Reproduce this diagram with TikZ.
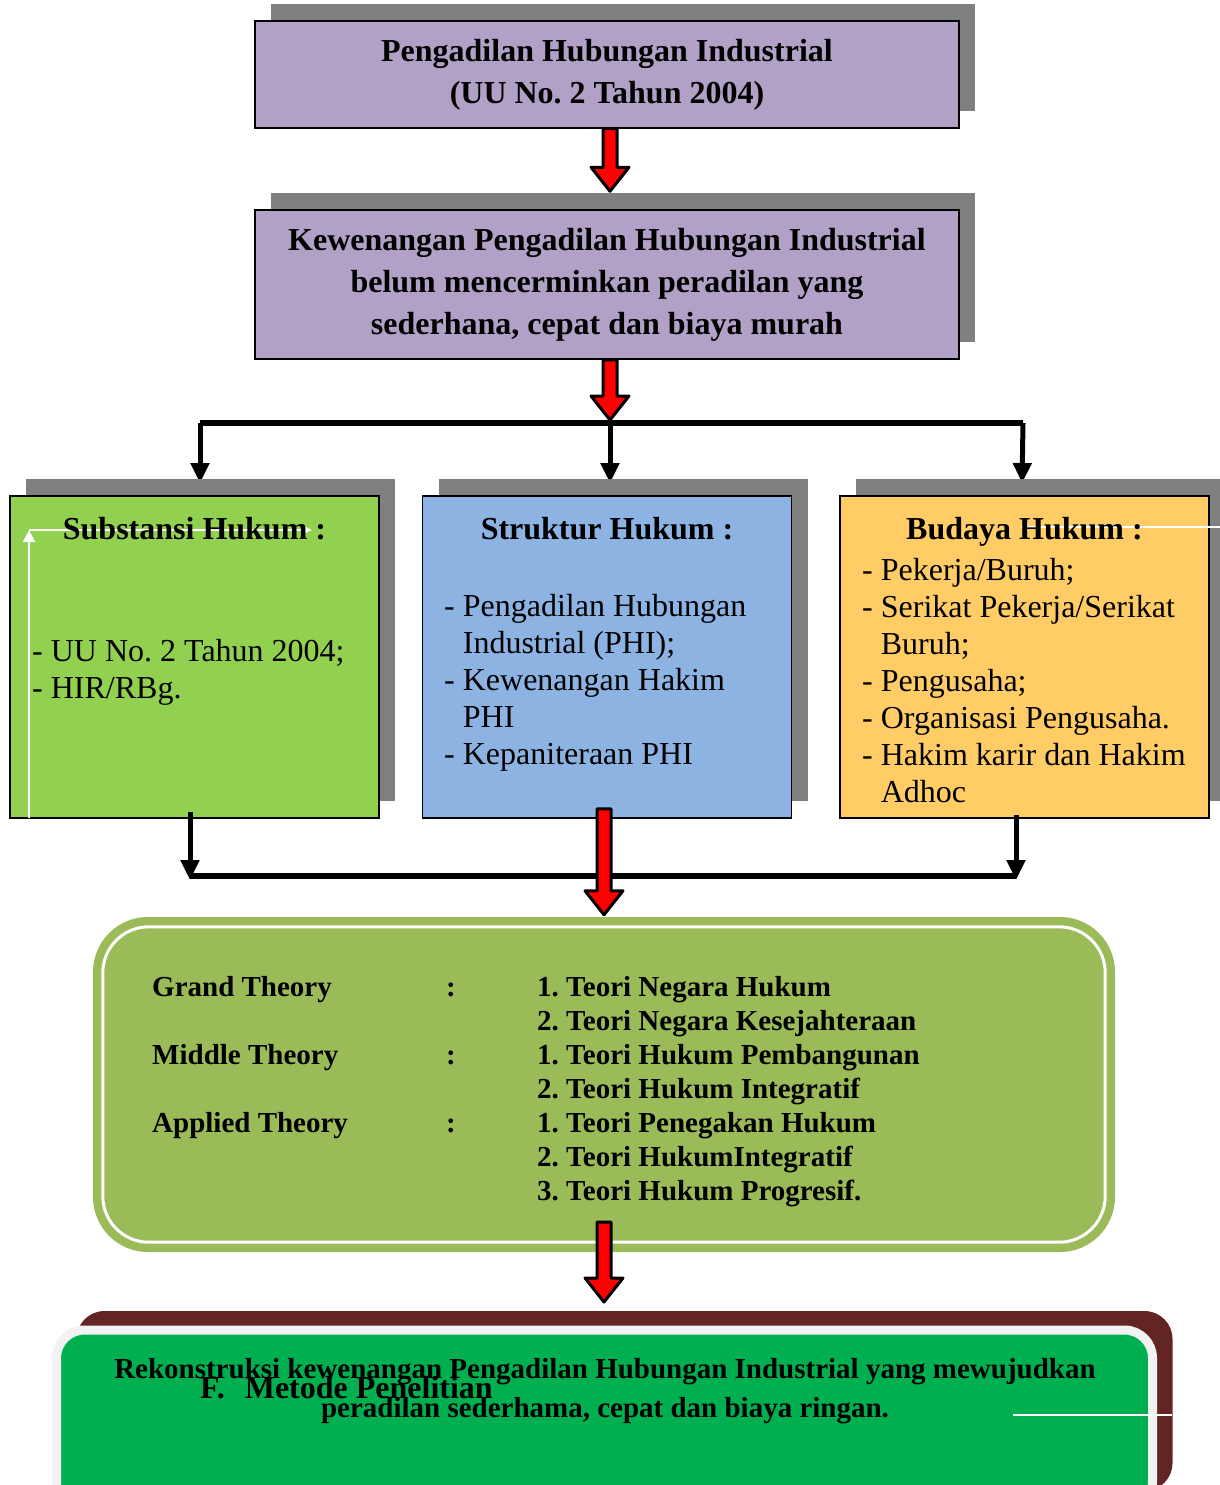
\documentclass[tikz,border=0pt]{standalone}
\usepackage{fontspec}
\setmainfont{Liberation Serif}
\usetikzlibrary{arrows.meta,positioning,calc,shadows}
\definecolor{ungu}{HTML}{B2A1C7}
\definecolor{abu}{HTML}{808080}
\definecolor{hijau}{HTML}{92D050}
\definecolor{biru}{HTML}{8DB3E2}
\definecolor{jingga}{HTML}{FFCC66}
\definecolor{zaitun}{HTML}{9BBB59}
\definecolor{marun}{HTML}{632523}
\definecolor{hijautua}{HTML}{00B050}
\definecolor{pucat}{HTML}{F2F2F2}
% block arrow, red with black outline: #1 = start, #2 = tip
\newcommand{\panahmerah}[2]{%
  \draw[merah] let \p1=#1, \p2=#2 in
    (\x1-7pt,\y1) -- (\x1+7pt,\y1) -- (\x1+7pt,\y2+24pt) -- (\x1+19pt,\y2+24pt)
    -- (\x1,\y2) -- (\x1-19pt,\y2+24pt) -- (\x1-7pt,\y2+24pt) -- cycle;}

\begin{document}
\frenchspacing
\begin{tikzpicture}[x=1pt,y=-1pt,
  kotak/.style={draw,line width=1.5pt,inner sep=0pt,drop shadow={shadow xshift=16pt,shadow yshift=17pt,fill=abu,opacity=1}},
  atas/.style={kotak,fill=ungu,minimum width=704pt,align=center,font=\fontsize{32}{42}\selectfont\bfseries},
  tiga/.style={kotak,minimum width=369pt,minimum height=322pt},
  judul/.style={font=\fontsize{32}{37}\selectfont\bfseries,inner sep=0pt},
  isi/.style={font=\fontsize{32}{37}\selectfont,align=left,inner sep=0pt,anchor=north west},
  garis/.style={line width=6pt},
  panah/.style={line width=5pt,-{Triangle[width=18pt,length=20pt]}},
  merah/.style={fill=red,draw=black,line width=3pt,line join=round},
  putih/.style={white,line width=2pt}]
  \useasboundingbox (0,0) rectangle (1220,1485);
  \clip (0,0) rectangle (1220,1485);
  % ---- 1. Dasar dan masalah
  \node[atas,minimum height=107pt] (puncak) at (607,74.5) {Pengadilan Hubungan Industrial\\(UU No. 2 Tahun 2004)};
  \node[atas,minimum height=149pt] (masalah) at (607,284.5) {Kewenangan Pengadilan Hubungan Industrial\\belum mencerminkan peradilan yang\\sederhana, cepat dan biaya murah};
  \coordinate (m1a) at ($(puncak.south)+(3,0)$);
  \coordinate (m1b) at ($(masalah.north)+(3,-18)$);
  \panahmerah{(m1a)}{(m1b)}
  % ---- 2. Percabangan
  \coordinate (bagiL) at (200,423);
  \coordinate (bagiM) at (610,423);
  \coordinate (bagiR) at (1023,423);
  \coordinate (tL) at (200,483);
  \coordinate (tM) at (610,483);
  \coordinate (tR) at (1022,483);
  \draw[garis] (bagiL) -- (bagiR);
  \draw[panah] (bagiL) -- (tL);
  \draw[panah] (bagiM) -- (tM);
  \draw[panah] (bagiR) -- (tR);
  \coordinate (m2a) at ($(masalah.south)+(3,0)$);
  \coordinate (m2b) at ($(bagiM)+(0,-3)$);
  \panahmerah{(m2a)}{(m2b)}
  % ---- 3. Substansi, struktur, budaya
  \node[tiga,fill=hijau] (sub) at (194.5,657) {};
  \node[tiga,fill=biru] (struktur) at (607,657) {};
  \node[tiga,fill=jingga] (budaya) at (1024.5,657) {};
  % garis putih
  \coordinate (wA) at (29,818);
  \coordinate (wB) at (29,530);
  \coordinate (wC) at (312,530);
  \coordinate (wD) at (1220,527);
  \coordinate (wE) at (1020,527);
  \draw[putih,-{Triangle[width=12pt,length=12pt]}] (wA) -- (wB);
  \draw[putih,-{Triangle[width=7pt,length=8pt]}] (wB) -- (wC);
  \draw[putih,-{Triangle[width=7pt,length=8pt]}] (wD) -- (wE);
  \node[judul,below=21.5pt of sub.north] (subT) {Substansi Hukum :};
  \node[isi] (subI) at (32,639.5) {- UU No. 2 Tahun 2004;\\- HIR/RBg.};
  \node[judul,below=21.5pt of struktur.north] (strT) {Struktur Hukum :};
  \node[isi] (strI) at (444,594.5) {- Pengadilan Hubungan\\\phantom{- }Industrial (PHI);\\- Kewenangan Hakim\\\phantom{- }PHI\\- Kepaniteraan PHI};
  \node[judul,below=21.5pt of budaya.north] (budT) {Budaya Hukum :};
  \node[isi] (budI) at (862,558.5) {- Pekerja/Buruh;\\- Serikat Pekerja/Serikat\\\phantom{- }Buruh;\\- Pengusaha;\\- Organisasi Pengusaha.\\- Hakim karir dan Hakim\\\phantom{- }Adhoc};
  % ---- 4. Penggabungan
  \coordinate (sL) at (190,812);
  \coordinate (sR) at (1016,815);
  \coordinate (gabL) at (190,876);
  \coordinate (gabR) at (1016,876);
  \coordinate (uL) at (190,880);
  \coordinate (uR) at (1016,880);
  \draw[garis] (gabL) -- (gabR);
  \draw[panah] (sL) -- (uL);
  \draw[panah] (sR) -- (uR);
  % ---- 5. Teori
  \node[fill=zaitun,rounded corners=55pt,minimum width=1022pt,minimum height=335pt,inner sep=0pt] (teoriK) at (604,1084.5) {};
  \draw[white,line width=3pt,rounded corners=46pt] ([shift={(10pt,-10pt)}]teoriK.north west) rectangle ([shift={(-10pt,10pt)}]teoriK.south east);
  \node[anchor=north west,inner sep=0pt,font=\fontsize{29}{34}\selectfont\bfseries] (teori) at (152,972) {%
    \begin{tabular}{@{}p{294pt}@{}p{91pt}@{}l@{}}
      Grand Theory & : & 1. Teori Negara Hukum\\
       & & 2. Teori Negara Kesejahteraan\\
      Middle Theory & : & 1. Teori Hukum Pembangunan\\
       & & 2. Teori Hukum Integratif\\
      Applied Theory & : & 1. Teori Penegakan Hukum\\
       & & 2. Teori HukumIntegratif\\
       & & 3. Teori Hukum Progresif.
    \end{tabular}};
  \coordinate (m3a) at ($(struktur.south)+(-3,-10)$);
  \coordinate (m3b) at ($(teoriK.north)+(0,-2)$);
  \panahmerah{(m3a)}{(m3b)}
  % ---- 6. Rekonstruksi
  \node[fill=hijautua,draw=pucat,line width=9pt,rounded corners=28pt,minimum width=1096pt,minimum height=180pt,
    drop shadow={shadow xshift=20pt,shadow yshift=19pt,fill=marun,opacity=1}] (hasil) at (604.5,1420) {};
  \node[align=center,inner sep=0pt,font=\fontsize{29}{39}\selectfont\bfseries] (rek) at (605,1391) {Rekonstruksi kewenangan Pengadilan Hubungan Industrial yang mewujudkan\\peradilan sederhama, cepat dan biaya ringan.};
  \node[anchor=base west,inner sep=0pt,font=\fontsize{32}{37}\selectfont\bfseries] (metode) at (200,1398) {F.\hspace{20pt}Metode Penelitian};
  \coordinate (wF) at (1013,1415);
  \coordinate (wG) at (1172,1415);
  \draw[putih] (wF) -- (wG);
  \coordinate (m4a) at ($(teoriK.south)+(0,-30)$);
  \coordinate (m4b) at ($(hasil.north)+(0,-23.5)$);
  \panahmerah{(m4a)}{(m4b)}
\end{tikzpicture}
\end{document}
